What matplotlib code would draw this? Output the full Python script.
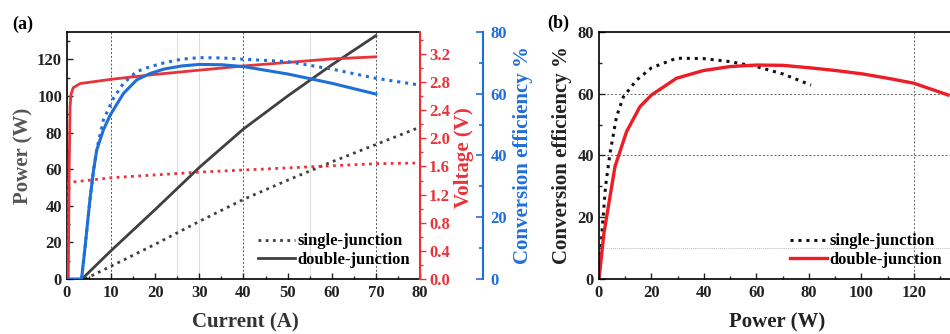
import numpy as np
import matplotlib
matplotlib.use("Agg")
import matplotlib.pyplot as plt
from matplotlib.ticker import MultipleLocator, FixedLocator, FormatStrFormatter

plt.rcParams['font.family'] = ['Liberation Serif', 'DejaVu Serif']
plt.rcParams['font.weight'] = 'bold'
plt.rcParams['axes.labelweight'] = 'bold'

# ---- panel (a): current sweep ----
# power (W)
i_pow_single = [4.1, 10, 20, 30, 40, 50, 60, 70, 80]
p_single = [0, 7, 19, 31.5, 43.5, 54, 64, 73.5, 83]
i_pow_double = [3.4, 10, 20, 30, 40, 50, 60, 70]
p_double = [0, 15.5, 38, 61, 82, 100, 117, 133]

# voltage (V)
i_v_single = [0, 0.3, 1.4, 10, 20, 30, 40, 50, 60, 70, 80]
v_single = [0, 1.36, 1.38, 1.44, 1.48, 1.52, 1.55, 1.58, 1.61, 1.64, 1.65]
i_v_double = [0.3, 0.5, 0.7, 0.9, 1.4, 3, 10, 20, 30, 40, 50, 60, 70]
v_double = [0, 1.6, 2.45, 2.62, 2.72, 2.78, 2.84, 2.91, 2.97, 3.03, 3.08, 3.13, 3.16]

# conversion efficiency (%)
i_eff_single = [3.3, 4, 5.2, 6, 6.75, 8.25, 10.5, 12.8, 15.8, 18.9, 22, 26, 30, 35, 40, 50, 60, 70, 80]
eff_single = [0, 9, 25.6, 35, 42, 51.5, 58.5, 63.4, 67.2, 68.8, 70, 71.2, 71.7, 71.6, 71.2, 70.4, 68, 65, 62.8]
i_eff_double = [0, 3.3, 4, 5.2, 6, 6.75, 8.25, 9.8, 12.8, 15.8, 18.9, 22, 26, 30, 35, 40, 50, 60, 70]
eff_double = [0, 0, 9, 25.6, 35, 41.8, 48.3, 53.1, 60.1, 64.5, 66.6, 68, 69, 69.5, 69.4, 68.8, 66.4, 63.4, 59.9]

# ---- panel (b): efficiency vs power ----
pb_single = [0, 1.3, 2.5, 4.2, 6.7, 9.3, 14.3, 20, 29.5, 39.7, 49.9, 60, 70.1, 80.8]
eb_single = [0, 17, 30, 40.7, 52.6, 59, 64.4, 68.4, 71.5, 71.4, 70.4, 68.8, 66.4, 62.8]
pb_double = [0, 1.9, 6.1, 10.5, 15.6, 20, 29.5, 39.7, 49.9, 60, 70.1, 80.3, 90.4, 100.6, 110.8, 120, 133]
eb_double = [0, 14.9, 36.4, 47.7, 55.8, 59.6, 65, 67.5, 68.8, 69.3, 69.2, 68.4, 67.5, 66.4, 64.9, 63.4, 59.6]

RED = '#e8333a'
BLUE = '#1f6fd8'
GRAY = '#404040'
DOT = (0, (1, 1.6))
TS = 12

fig = plt.figure(figsize=(9.5, 3.34), dpi=100)

ax = fig.add_axes([0.0705, 0.1647, 0.3716, 0.7395])
axv = ax.twinx()
axe = ax.twinx()
axe.spines['right'].set_position(('outward', 45.4))

# grid lines
for x in [25, 30, 55]:
    ax.axvline(x, color='#dddddd', lw=0.8, zorder=0)
for x in [10, 40, 70]:
    ax.axvline(x, color='#555555', lw=0.7, ls=(0, (2, 2)), zorder=0)

l1, = ax.plot(i_pow_single, p_single, color=GRAY, lw=2, ls=DOT, label='single-junction')
l2, = ax.plot(i_pow_double, p_double, color=GRAY, lw=2, label='double-junction')
axv.plot(i_v_single, v_single, color=RED, lw=2, ls=DOT)
axv.plot(i_v_double, v_double, color=RED, lw=2)
axe.plot(i_eff_single, eff_single, color=BLUE, lw=2.2, ls=DOT)
axe.plot(i_eff_double, eff_double, color=BLUE, lw=2.2)

ax.set_xlim(0, 80)
ax.set_ylim(0, 135)
axv.set_ylim(0, 3.513)
axe.set_ylim(0, 80)

ax.xaxis.set_major_locator(MultipleLocator(10))
ax.xaxis.set_minor_locator(MultipleLocator(5))
ax.yaxis.set_major_locator(MultipleLocator(20))
ax.yaxis.set_minor_locator(MultipleLocator(10))
axv.yaxis.set_major_locator(MultipleLocator(0.4))
axv.yaxis.set_minor_locator(MultipleLocator(0.2))
axv.yaxis.set_major_formatter(FormatStrFormatter('%.1f'))
axe.yaxis.set_major_locator(MultipleLocator(20))
axe.yaxis.set_minor_locator(MultipleLocator(10))

ax.tick_params(which='both', direction='in', top=False, labelsize=TS, width=1, colors='#222222')
ax.tick_params(which='major', length=4)
ax.tick_params(which='minor', length=2.5)
ax.tick_params(axis='x', pad=4.5)
axv.tick_params(which='both', direction='out', colors=RED, labelsize=TS, width=1)
axv.tick_params(which='major', length=4, pad=2.5)
axv.tick_params(which='minor', length=2.5)
axe.tick_params(which='both', direction='in', colors=BLUE, labelsize=TS, width=1.2)
axe.tick_params(which='major', length=5, pad=5.5)
axe.tick_params(which='minor', length=3)

for s in ['left', 'bottom', 'top']:
    ax.spines[s].set_linewidth(1.2)
axv.spines['right'].set_color(RED)
axv.spines['right'].set_linewidth(1.5)
axe.spines['right'].set_color(BLUE)
axe.spines['right'].set_linewidth(1.5)
for s in ['left', 'top', 'bottom']:
    axv.spines[s].set_visible(False)
    axe.spines[s].set_visible(False)

ax.set_xlabel('Current (A)', fontsize=15, color='#333333')
ax.set_ylabel('Power (W)', fontsize=15, color='#555555')
axv.set_ylabel('Voltage (V)', fontsize=15, color=RED)
axe.set_ylabel('Conversion efficiency %', fontsize=15, color=BLUE)
ax.xaxis.set_label_coords(0.504, -0.135)
ax.yaxis.set_label_coords(-0.096, 0.5)
axv.yaxis.set_label_coords(1.096, 0.49)
axe.yaxis.set_label_coords(1.263, 0.5)

ax.legend(handles=[l1, l2], loc='lower left', bbox_to_anchor=(0.541, 0.0445), frameon=False,
          fontsize=TS, handlelength=2.2, handletextpad=0.15, labelspacing=0.15,
          borderpad=0, borderaxespad=0)

fig.text(0.013, 0.913, '(a)', fontsize=13, weight='bold')

# ---- panel (b) ----
bx = fig.add_axes([0.6305, 0.1647, 0.3868, 0.7395])
for y in [40, 60]:
    bx.axhline(y, color='#666666', lw=0.7, ls=(0, (2, 2)), zorder=0)
bx.axhline(10, color='#bbbbbb', lw=0.7, ls=(0, (1, 1)), zorder=0)
bx.axvline(120, color='#666666', lw=0.7, ls=(0, (2, 2)), zorder=0)

m1, = bx.plot(pb_single, eb_single, color='#111111', lw=2.2, ls=DOT, label='single-junction')
m2, = bx.plot(pb_double, eb_double, color='#ee1c25', lw=2.4, label='double-junction')

bx.set_xlim(0, 140)
bx.set_ylim(0, 80)
bx.xaxis.set_major_locator(FixedLocator([0, 20, 40, 60, 80, 100, 120]))
bx.xaxis.set_minor_locator(MultipleLocator(10))
bx.yaxis.set_major_locator(MultipleLocator(20))
bx.yaxis.set_minor_locator(MultipleLocator(10))
bx.tick_params(which='both', direction='in', labelsize=TS, width=1, colors='#222222')
bx.tick_params(which='major', length=4)
bx.tick_params(which='minor', length=2.5)
bx.tick_params(axis='x', pad=4.5)
for s in bx.spines.values():
    s.set_linewidth(1.2)

bx.set_xlabel('Power (W)', fontsize=15, color='#222222')
bx.set_ylabel('Conversion efficiency %', fontsize=15, color='#222222')
bx.xaxis.set_label_coords(0.484, -0.135)
bx.yaxis.set_label_coords(-0.073, 0.5)

bx.legend(handles=[m1, m2], loc='lower left', bbox_to_anchor=(0.52, 0.0445), frameon=False,
          fontsize=TS, handlelength=2.2, handletextpad=0.15, labelspacing=0.15,
          borderpad=0, borderaxespad=0)

fig.text(0.576, 0.916, '(b)', fontsize=13, weight='bold')

fig.savefig('out.png', dpi=100)
